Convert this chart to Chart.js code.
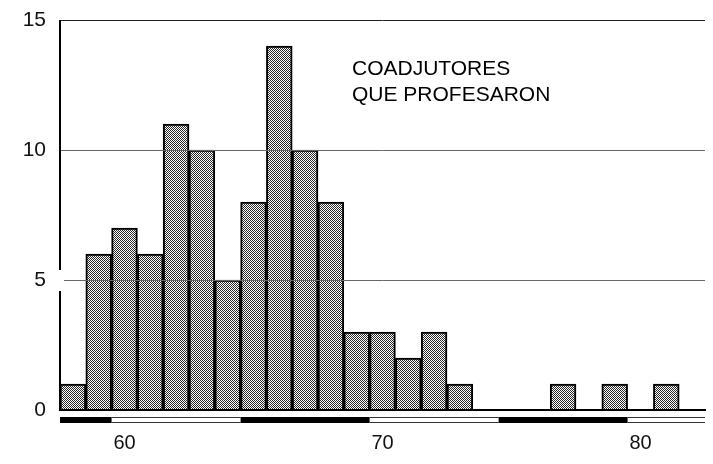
<!DOCTYPE html>
<html>
<head>
<meta charset="utf-8">
<script src="https://cdn.jsdelivr.net/npm/chart.js@4/dist/chart.umd.min.js"></script>
<style>
  html, body { margin: 0; padding: 0; background: #fff; }
  #wrap { width: 713px; height: 464px; position: relative; }
</style>
</head>
<body>
<div id="wrap"><canvas id="c" width="713" height="464"></canvas></div>
<script>
// ---- data ----
const years = [58,59,60,61,62,63,64,65,66,67,68,69,70,71,72,73,74,75,76,77,78,79,80,81,82];
const counts = [1,6,7,6,11,10,5,8,14,10,8,3,3,2,3,1,0,0,0,1,0,1,0,1,0];
const xTickLabels = [60, 70, 80];
const yTicks = [0, 5, 10, 15];
const annotationLines = ['COADJUTORES', 'QUE PROFESARON'];
const bandBreaks = [58, 60, 65, 70, 75, 80, 83];

// stipple pattern for bars
function makePattern() {
  const pc = document.createElement('canvas');
  pc.width = 2; pc.height = 2;
  const p = pc.getContext('2d');
  p.fillStyle = '#ffffff'; p.fillRect(0, 0, 2, 2);
  p.fillStyle = '#2a2a2a'; p.fillRect(0, 0, 1, 1); p.fillRect(1, 1, 1, 1);
  return p.createPattern(pc, 'repeat');
}

const FONT = "'Liberation Sans', Arial, sans-serif";

const decorPlugin = {
  id: 'decor',
  afterDraw(chart) {
    const ctx = chart.ctx;
    const xs = chart.scales.x;
    const ys = chart.scales.y;
    const ca = chart.chartArea;
    const n = years.length;
    const bw = (xs.right - xs.left) / n;
    const yTop = xs.top + 7;
    const h = 6;
    ctx.save();
    // left axis line with small break around the 5 tick
    const y5 = ys.getPixelForValue(5);
    ctx.fillStyle = '#fff';
    ctx.fillRect(ca.left - 1, y5 - 2, 5, 4);
    ctx.strokeStyle = '#000';
    ctx.lineWidth = 2;
    ctx.beginPath();
    ctx.moveTo(ca.left, ca.top);
    ctx.lineTo(ca.left, y5 - 10);
    ctx.moveTo(ca.left, y5 + 11);
    ctx.lineTo(ca.left, ca.bottom);
    ctx.stroke();
    // bottom band
    for (let i = 0; i < bandBreaks.length - 1; i++) {
      const i0 = bandBreaks[i] - years[0];
      const i1 = bandBreaks[i + 1] - years[0];
      const x0 = xs.left + i0 * bw;
      const x1 = Math.min(xs.left + i1 * bw, xs.right + 3);
      if (i % 2 === 0) {
        ctx.fillStyle = '#000';
        ctx.fillRect(x0, yTop, x1 - x0, h);
      } else {
        ctx.strokeStyle = '#333';
        ctx.lineWidth = 1;
        ctx.beginPath();
        ctx.moveTo(x0, yTop + 0.5); ctx.lineTo(x1, yTop + 0.5);
        ctx.moveTo(x0, yTop + h - 0.5); ctx.lineTo(x1, yTop + h - 0.5);
        ctx.stroke();
      }
    }
    // annotation text
    ctx.fillStyle = '#000';
    ctx.font = '21px ' + FONT;
    ctx.textBaseline = 'alphabetic';
    ctx.textAlign = 'left';
    ctx.fillText(annotationLines[0], 352, 75);
    ctx.fillText(annotationLines[1], 352, 101);
    ctx.restore();
  }
};

new Chart(document.getElementById('c'), {
  type: 'bar',
  data: {
    labels: years.map(String),
    datasets: [{
      data: counts,
      backgroundColor: makePattern(),
      borderColor: '#000',
      borderWidth: 2,
      barPercentage: 1,
      categoryPercentage: 1
    }]
  },
  options: {
    responsive: false,
    animation: false,
    events: [],
    layout: { padding: { top: 20, right: 8, left: 0, bottom: 0 } },
    plugins: { legend: { display: false }, tooltip: { enabled: false }, title: { display: false } },
    scales: {
      x: {
        type: 'category',
        offset: true,
        grid: { display: false, drawTicks: false },
        border: { display: true, color: '#000', width: 2, z: 1 },
        ticks: {
          autoSkip: false,
          maxRotation: 0,
          color: '#111',
          font: { family: FONT, size: 20 },
          padding: 21,
          callback: function(v, i) { return xTickLabels.includes(years[i]) ? String(years[i]) : ''; }
        },
        afterFit: function(s) { s.height = 54; s.paddingLeft = 0; s.paddingRight = 0; }
      },
      y: {
        min: 0, max: 15,
        afterBuildTicks: function(s) { s.ticks = yTicks.map(v => ({ value: v })); },
        grid: {
          drawTicks: false,
          z: 1,
          lineWidth: 1,
          color: function(c) { return c.tick && c.tick.value === 15 ? '#222' : (c.tick && c.tick.value === 0 ? 'rgba(0,0,0,0)' : '#666'); }
        },
        border: { display: false },
        ticks: {
          color: '#111',
          font: { family: FONT, size: 21 },
          padding: 14
        },
        afterFit: function(s) { s.width = 60; s.paddingTop = 0; s.paddingBottom = 0; }
      }
    }
  },
  plugins: [decorPlugin]
});
</script>
</body>
</html>
